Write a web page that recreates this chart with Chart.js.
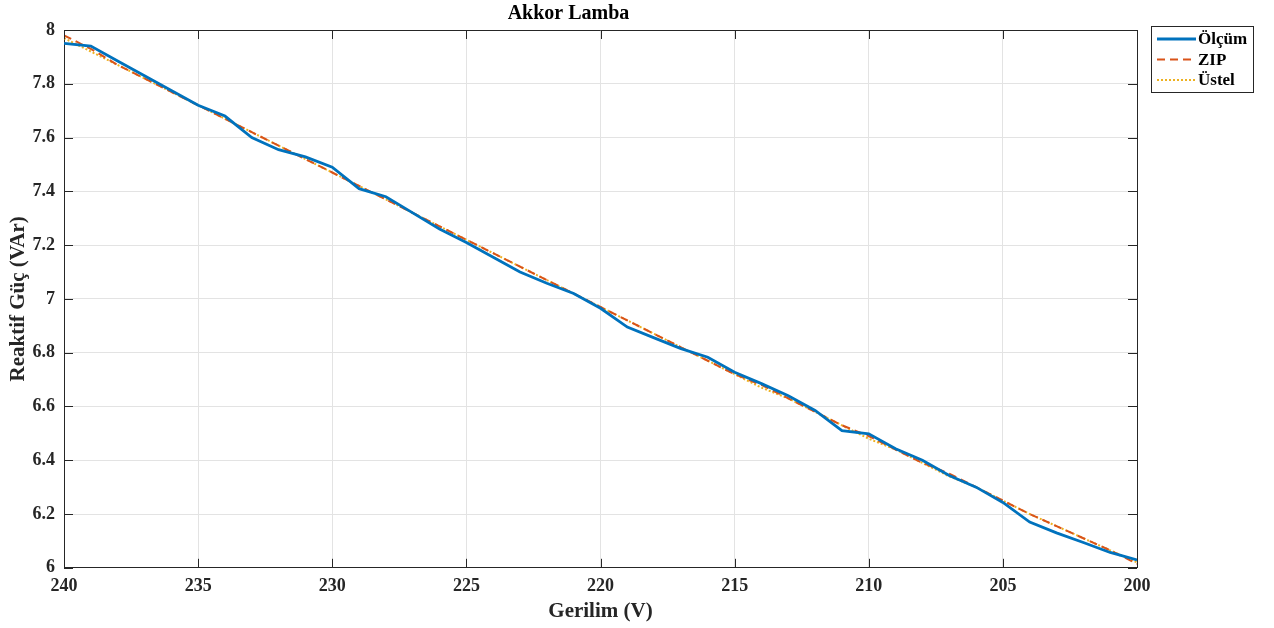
<!DOCTYPE html>
<html>
<head>
<meta charset="utf-8">
<script src="https://cdn.jsdelivr.net/npm/chart.js@4.4.1/dist/chart.umd.min.js"></script>
<style>
  html, body { margin: 0; padding: 0; background: #fff; }
  #wrap { width: 1274px; height: 628px; }
</style>
</head>
<body>
<div id="wrap"><canvas id="chart"></canvas></div>
<script>
// voltage steps, 240 V down to 200 V
const voltages = [240, 239, 238, 237, 236, 235, 234, 233, 232, 231, 230, 229, 228, 227, 226, 225, 224, 223, 222, 221, 220,
  219, 218, 217, 216, 215, 214, 213, 212, 211, 210, 209, 208, 207, 206, 205, 204, 203, 202, 201, 200]

const olcum = [7.95, 7.94, 7.885, 7.83, 7.775, 7.72, 7.68, 7.60, 7.555, 7.528, 7.49, 7.41, 7.38, 7.32, 7.26, 7.21, 7.155, 7.10, 7.058, 7.02, 6.965,
  6.895, 6.855, 6.815, 6.783, 6.727, 6.685, 6.64, 6.585, 6.51, 6.498, 6.443, 6.40, 6.343, 6.30, 6.243, 6.17, 6.13, 6.094, 6.057, 6.029]

const zip = [7.98, 7.93, 7.87, 7.82, 7.77, 7.72, 7.67, 7.62, 7.57, 7.52, 7.47, 7.42, 7.37, 7.32, 7.27, 7.22, 7.17, 7.12, 7.07, 7.02, 6.97,
  6.92, 6.87, 6.82, 6.77, 6.72, 6.68, 6.63, 6.58, 6.53, 6.49, 6.44, 6.39, 6.35, 6.30, 6.25, 6.20, 6.155, 6.11, 6.065, 6.015]

const ustel = [7.97, 7.92, 7.87, 7.82, 7.77, 7.72, 7.67, 7.62, 7.57, 7.52, 7.47, 7.42, 7.37, 7.32, 7.27, 7.22, 7.17, 7.12, 7.07, 7.02, 6.97,
  6.92, 6.87, 6.82, 6.77, 6.72, 6.67, 6.63, 6.58, 6.53, 6.48, 6.44, 6.39, 6.34, 6.30, 6.25, 6.20, 6.155, 6.11, 6.065, 6.02]

const seriesNames = ['Ölçüm', 'ZIP', 'Üstel']
const seriesColors = ['#0072BD', '#D95319', '#EDB120']

const FONT = '"Liberation Serif", "Times New Roman", serif'
const AXIS = '#262626'

function points(vals) {
  return voltages.map((v, i) => ({ x: v, y: vals[i] }))
}

// MATLAB style box with inward ticks + outside legend
const matlabBox = {
  id: 'matlabBox',
  afterDatasetsDraw(chart) {
    const { ctx, chartArea: a, scales } = chart
    ctx.save()
    ctx.strokeStyle = AXIS
    ctx.lineWidth = 1
    ctx.beginPath()
    ctx.moveTo(a.left, a.top + 0.5)
    ctx.lineTo(a.right + 0.5, a.top + 0.5)
    ctx.lineTo(a.right + 0.5, a.bottom)
    ctx.stroke()
    const len = 9
    ctx.beginPath()
    scales.x.ticks.forEach(t => {
      const px = Math.round(scales.x.getPixelForValue(t.value)) + 0.5
      ctx.moveTo(px, a.bottom); ctx.lineTo(px, a.bottom - len)
      ctx.moveTo(px, a.top); ctx.lineTo(px, a.top + len)
    })
    scales.y.ticks.forEach(t => {
      const py = Math.round(scales.y.getPixelForValue(t.value)) + 0.5
      ctx.moveTo(a.left, py); ctx.lineTo(a.left + len, py)
      ctx.moveTo(a.right, py); ctx.lineTo(a.right - len, py)
    })
    ctx.stroke()
    ctx.restore()
  },
  afterDraw(chart) {
    const ctx = chart.ctx
    const bx = 1151.5, by = 26.5, bw = 102, bh = 66
    ctx.save()
    ctx.fillStyle = '#fff'
    ctx.fillRect(bx, by, bw, bh)
    ctx.strokeStyle = AXIS
    ctx.lineWidth = 1
    ctx.strokeRect(bx, by, bw, bh)
    chart.data.datasets.forEach((ds, i) => {
      const y = 39 + i * 20.5
      ctx.beginPath()
      ctx.strokeStyle = ds.borderColor
      ctx.lineWidth = ds.borderWidth
      ctx.setLineDash(ds.borderDash || [])
      ctx.moveTo(1157, y)
      ctx.lineTo(1196, y)
      ctx.stroke()
      ctx.setLineDash([])
      ctx.fillStyle = '#000'
      ctx.font = 'bold 17px ' + FONT
      ctx.textBaseline = 'middle'
      ctx.fillText(ds.label, 1198, y + 1)
    })
    ctx.restore()
  }
}

new Chart('chart', {
  type: 'line',
  data: {
    datasets: [
      { label: seriesNames[0], data: points(olcum), borderColor: seriesColors[0], borderWidth: 2.8, pointRadius: 0, tension: 0 },
      { label: seriesNames[1], data: points(zip), borderColor: seriesColors[1], borderWidth: 2, borderDash: [8, 5], pointRadius: 0, tension: 0 },
      { label: seriesNames[2], data: points(ustel), borderColor: seriesColors[2], borderWidth: 2, borderDash: [2, 2], pointRadius: 0, tension: 0 }
    ]
  },
  options: {
    responsive: true,
    maintainAspectRatio: false,
    animation: false,
    layout: { padding: { left: 0, right: 137, top: 0, bottom: 0 } },
    plugins: {
      legend: { display: false },
      tooltip: { enabled: false },
      title: {
        display: true,
        text: 'Akkor Lamba',
        color: '#000',
        font: { family: FONT, size: 20, weight: 'bold' },
        padding: { top: 2, bottom: 4 }
      }
    },
    scales: {
      x: {
        type: 'linear',
        reverse: true,
        min: 200,
        max: 240,
        ticks: { stepSize: 5, color: AXIS, padding: 8, maxRotation: 0, font: { family: FONT, size: 18, weight: 'bold' } },
        grid: { color: '#e3e3e3', drawTicks: false },
        border: { color: AXIS, width: 1 },
        title: {
          display: true, text: 'Gerilim (V)', color: AXIS,
          padding: { top: 0, bottom: 10 },
          font: { family: FONT, size: 21, weight: 'bold', lineHeight: 0.6 }
        }
      },
      y: {
        min: 6,
        max: 8,
        ticks: {
          stepSize: 0.2, color: AXIS, padding: 9,
          font: { family: FONT, size: 18, weight: 'bold' },
          callback: v => String(Number(v.toFixed(1)))
        },
        grid: { color: '#e3e3e3', drawTicks: false },
        border: { color: AXIS, width: 1 },
        title: {
          display: true, text: 'Reaktif Güç (VAr)', color: AXIS,
          padding: { top: 13, bottom: 0 },
          font: { family: FONT, size: 21, weight: 'bold', lineHeight: 0.5 }
        }
      }
    }
  },
  plugins: [matlabBox]
})
</script>
</body>
</html>
